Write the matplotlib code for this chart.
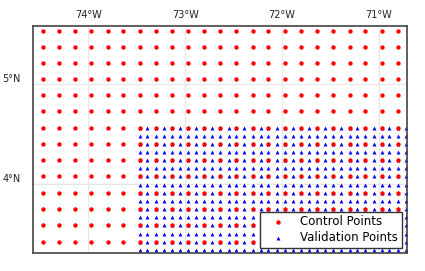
import matplotlib
matplotlib.use("Agg")
import matplotlib.pyplot as plt
import numpy as np

# Control points grid (degrees)
control_lon = [-74.47, -74.30, -74.14, -73.97, -73.80, -73.64, -73.47, -73.30,
               -73.14, -72.97, -72.80, -72.64, -72.47, -72.30, -72.14, -71.97,
               -71.80, -71.64, -71.47, -71.30, -71.14, -70.97, -70.80]
control_lat = [5.53, 5.37, 5.21, 5.05, 4.89, 4.73, 4.56, 4.40, 4.24, 4.08,
               3.91, 3.75, 3.59, 3.42]

# Validation points grid (degrees)
valid_lon = [-73.47, -73.39, -73.30, -73.22, -73.14, -73.05, -72.97, -72.89,
             -72.80, -72.72, -72.64, -72.55, -72.47, -72.39, -72.30, -72.22,
             -72.14, -72.05, -71.97, -71.89, -71.80, -71.72, -71.64, -71.55,
             -71.47, -71.39, -71.30, -71.22, -71.14, -71.05, -70.97, -70.89,
             -70.80, -70.72]
valid_lat = [4.56, 4.48, 4.40, 4.32, 4.24, 4.16, 4.08, 3.99, 3.91, 3.83,
             3.75, 3.67, 3.59, 3.50, 3.42, 3.34]

x_ticks = [-74, -73, -72, -71]
x_labels = ["74°W", "73°W", "72°W", "71°W"]
y_ticks = [4, 5]
y_labels = ["4°N", "5°N"]

fig = plt.figure(figsize=(4.25, 2.71), dpi=100)
ax = fig.add_axes([0.0784, 0.0664, 0.9576 - 0.0784, 0.9059 - 0.0664])

cx, cy = np.meshgrid(control_lon, control_lat)
vx, vy = np.meshgrid(valid_lon, valid_lat)

ax.scatter(cx.ravel(), cy.ravel(), s=10, c="#ff0000", marker="o",
           linewidths=0, zorder=3, label="Control Points")
ax.scatter(vx.ravel(), vy.ravel(), s=8, c="#0000ff", marker="^",
           linewidths=0, zorder=2, label="Validation Points")

ax.set_xlim(-74.568, -70.708)
ax.set_ylim(3.31, 5.585)

ax.set_xticks(x_ticks)
ax.set_xticklabels(x_labels)
ax.set_yticks(y_ticks)
ax.set_yticklabels(y_labels)
ax.xaxis.tick_top()
ax.tick_params(axis="both", length=0, labelsize=7, colors="#222222")
ax.tick_params(axis="x", pad=4)
ax.tick_params(axis="y", pad=9)
for lbl in ax.get_yticklabels():
    lbl.set_verticalalignment("bottom")

ax.grid(True, color="#e6e6e6", linewidth=0.8, zorder=0)
ax.set_axisbelow(True)

for sp in ax.spines.values():
    sp.set_color("#444444")
    sp.set_linewidth(1.2)

leg = ax.legend(loc="lower right", fontsize=8.5, fancybox=False,
                framealpha=1, edgecolor="#333333", handlelength=2.5,
                handletextpad=0.6, labelspacing=0.25, borderpad=0.3,
                borderaxespad=0.45)
leg.get_frame().set_linewidth(1.0)

fig.savefig("out.png", dpi=100)
